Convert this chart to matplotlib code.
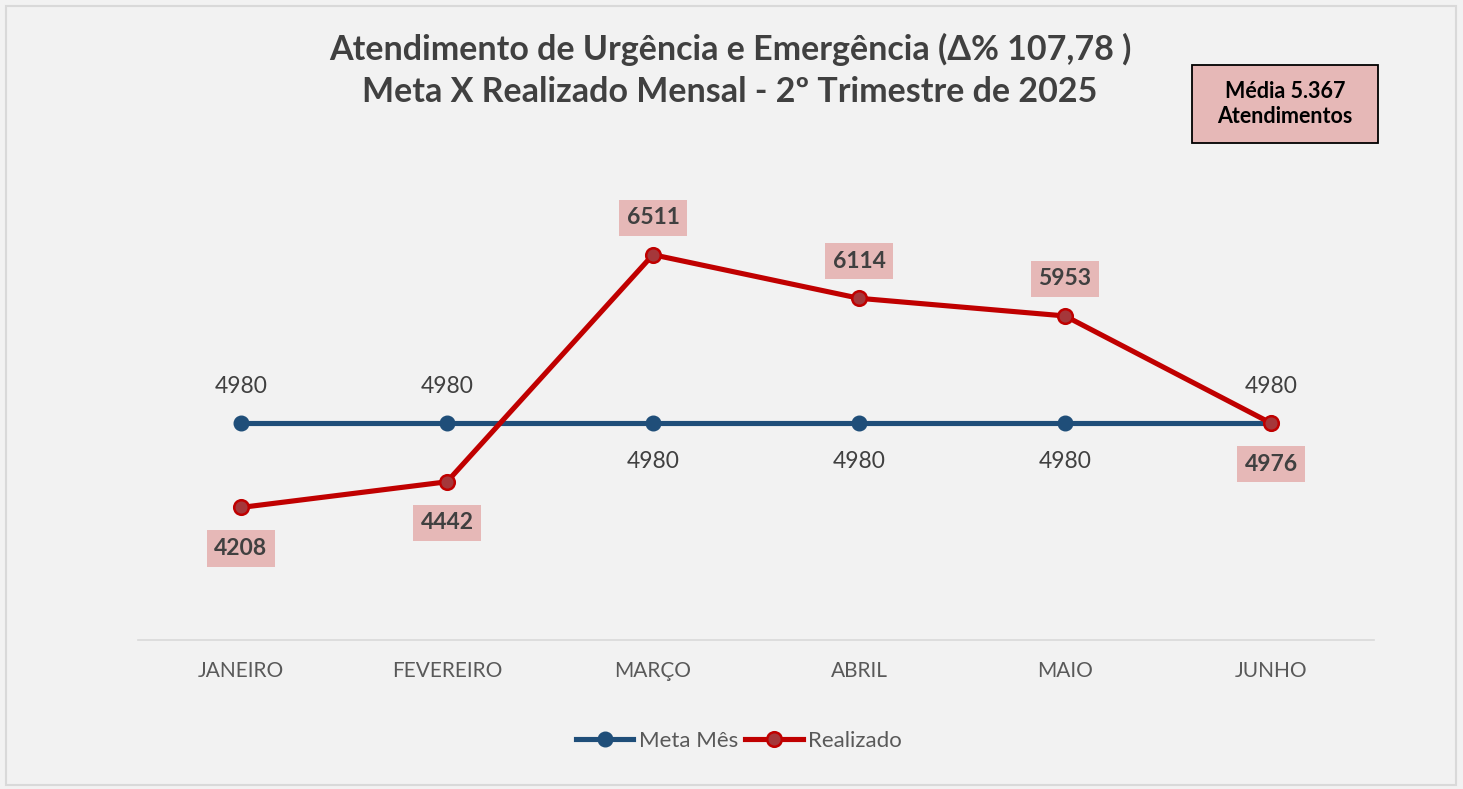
import matplotlib.pyplot as plt
from matplotlib.patches import Rectangle

# Data
meses = ["JANEIRO", "FEVEREIRO", "MARÇO", "ABRIL", "MAIO", "JUNHO"]
meta = [4980, 4980, 4980, 4980, 4980, 4980]
realizado = [4208, 4442, 6511, 6114, 5953, 4976]
# label above (1) or below (-1) the point
meta_pos = [1, 1, -1, -1, -1, 1]
real_pos = [-1, -1, 1, 1, 1, -1]

titulo = "Atendimento de Urgência e Emergência (Δ% 107,78 )\nMeta X Realizado Mensal - 2º Trimestre de 2025"
media_txt = "Média 5.367\nAtendimentos"

# Colors
bg = "#F2F2F2"
azul = "#1F4E79"
vermelho = "#C00000"
rosa = "#E6B8B7"
texto = "#404040"

plt.rcParams['font.family'] = ['Lato', 'DejaVu Sans']

fig = plt.figure(figsize=(14.63, 7.89), dpi=100, facecolor=bg)
fig.patches.append(Rectangle((0.004, 0.005), 0.991, 0.988, transform=fig.transFigure,
                             facecolor=bg, edgecolor="#D9D9D9", linewidth=1.5, zorder=-1))

ax = fig.add_axes([0.0943, 0.1888, 0.8449, 0.5564])
ax.set_facecolor(bg)
x = list(range(len(meses)))

ax.plot(x, meta, color=azul, linewidth=3.7, marker="o", markersize=10.5,
        markerfacecolor=azul, markeredgecolor=azul, label="Meta Mês", zorder=3)
ax.plot(x, realizado, color=vermelho, linewidth=3.7, marker="o", markersize=10.5,
        markerfacecolor="#A5373A", markeredgecolor=vermelho, markeredgewidth=1.8,
        label="Realizado", zorder=4)

for i, v in enumerate(meta):
    off = 36 if meta_pos[i] > 0 else -39
    ax.annotate(str(v), (i, v), xytext=(0, off), textcoords="offset pixels",
                ha="center", va="center", fontsize=16.5, color=texto)

for i, v in enumerate(realizado):
    off = 37 if real_pos[i] > 0 else -41
    ax.annotate(str(v), (i, v), xytext=(0, off), textcoords="offset pixels",
                ha="center", va="center", fontsize=16.5, color=texto, fontweight="bold",
                bbox=dict(boxstyle="square,pad=0.33", facecolor=rosa, edgecolor="none"))

ax.set_xlim(-0.5, 5.5)
ax.set_ylim(3000, 7000)
ax.set_xticks(x)
ax.set_xticklabels(meses, fontsize=15, color="#595959")
ax.set_yticks([])
ax.tick_params(axis="x", length=0, pad=15)
for s in ["top", "left", "right"]:
    ax.spines[s].set_visible(False)
ax.spines["bottom"].set_color("#D9D9D9")
ax.spines["bottom"].set_linewidth(1.2)

fig.text(0.499, 0.911, titulo, ha="center", va="center", fontsize=24.5, fontweight="bold",
         color=texto, linespacing=1.4)

# "Média" box
fig.patches.append(Rectangle((1192 / 1463, 1 - 143 / 789), 186 / 1463, 78 / 789,
                             transform=fig.transFigure, facecolor=rosa, edgecolor="black",
                             linewidth=1.3, zorder=1))
fig.text(0.8783, 0.868, media_txt, ha="center", va="center", fontsize=15.5, fontweight="bold",
         color="black", linespacing=1.25, zorder=2)

leg = fig.legend(loc="center", bbox_to_anchor=(0.505, 0.061), ncol=2, frameon=False,
                 fontsize=16, handlelength=2.6, columnspacing=0.3, handletextpad=0.25)
for t in leg.get_texts():
    t.set_color("#595959")

fig.savefig("out.png", dpi=100, facecolor=bg)
